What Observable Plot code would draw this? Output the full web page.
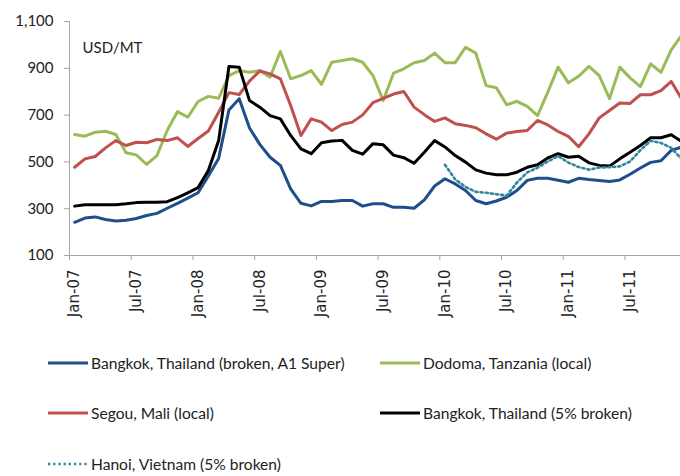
<!DOCTYPE html>
<html>
<head>
<meta charset="utf-8">
<script src="https://cdn.jsdelivr.net/npm/d3@7"></script>
<script src="https://cdn.jsdelivr.net/npm/@observablehq/plot@0.6"></script>
<style>
  html, body { margin: 0; padding: 0; background: #fff; }
  #wrap { position: relative; width: 680px; height: 476px; overflow: hidden; font-family: Lato, "Open Sans", sans-serif; }
  #chart { position: absolute; left: 0; top: 0; }
  .leg { position: absolute; display: flex; align-items: center; font-size: 15.6px; color: #222; white-space: nowrap; }
  .leg svg { margin-right: 3px; }
</style>
</head>
<body>
<div id="wrap">
  <div id="chart"></div>
  <div id="legend"></div>
</div>
<script>
// Month index 0 = Jan-07 ... 59 = Dec-11
const tickLabels = ["Jan-07", "Jul-07", "Jan-08", "Jul-08", "Jan-09", "Jul-09", "Jan-10", "Jul-10", "Jan-11", "Jul-11"];
const tickIndex = [0, 6, 12, 18, 24, 30, 36, 42, 48, 54];
const yTicks = [100, 300, 500, 700, 900, 1100];

const seriesNames = [
  "Bangkok, Thailand (broken, A1 Super)",
  "Dodoma, Tanzania (local)",
  "Segou, Mali (local)",
  "Bangkok, Thailand (5% broken)",
  "Hanoi, Vietnam (5% broken)"
];
const seriesColors = ["#1f4e8c", "#9bbb59", "#c0504d", "#000000", "#31859c"];

const bangkokA1 = [242, 260, 265, 254, 247, 251, 258, 271, 280, 302, 323, 345,
  368, 440, 515, 722, 770, 645, 575, 520, 485, 385, 323, 312,
  331, 331, 335, 335, 311, 321, 321, 306, 306, 302, 338, 397,
  428, 406, 378, 335, 321, 333, 349, 378, 421, 430, 430, 422,
  413, 430, 425, 421, 416, 423, 447, 474, 498, 505, 549, 563];

const dodoma = [617, 610, 627, 631, 617, 539, 530, 489, 527, 634, 715, 691,
  758, 780, 772, 869, 890, 883, 890, 862, 972, 855, 869, 890,
  831, 926, 933, 941, 926, 869, 762, 879, 898, 924, 933, 965,
  924, 924, 990, 965, 826, 817, 744, 759, 737, 698, 798, 905,
  838, 866, 908, 869, 770, 905, 859, 822, 919, 883, 979, 1040];

const segou = [477, 513, 523, 560, 591, 570, 584, 582, 596, 591, 603, 566,
  600, 632, 712, 796, 788, 845, 889, 876, 855, 741, 613, 684,
  670, 634, 660, 670, 701, 753, 771, 790, 801, 734, 702, 673,
  688, 663, 656, 646, 620, 597, 623, 630, 634, 677, 658, 630,
  609, 565, 620, 688, 720, 752, 750, 787, 787, 805, 844, 770];

const bangkok5 = [311, 317, 317, 317, 317, 321, 326, 328, 328, 330, 347, 368,
  390, 463, 591, 908, 905, 762, 734, 698, 684, 613, 556, 535,
  582, 589, 592, 549, 533, 578, 573, 529, 518, 494, 541, 591,
  564, 527, 499, 466, 452, 445, 445, 456, 477, 488, 517, 535,
  520, 524, 496, 485, 482, 513, 541, 570, 603, 603, 616, 587];

// Hanoi series starts at Jan-10 (month index 36)
const hanoiStart = 36;
const hanoi = [488, 425, 393, 372, 368, 362, 356, 412, 455, 475, 502, 525,
  497, 478, 467, 476, 477, 481, 502, 550, 590, 581, 560, 512];

const allSeries = [bangkokA1, dodoma, segou, bangkok5];
const rows = [];
allSeries.forEach((arr, s) => arr.forEach((v, i) => rows.push({i, v, s: seriesNames[s]})));
const hanoiRows = hanoi.map((v, k) => ({i: hanoiStart + k, v, s: seriesNames[4]}));

const boundaries = tickIndex.map(i => i - 0.5);
const labelOf = new Map(tickIndex.map((i, k) => [i, tickLabels[k]]));

const chart = Plot.plot({
  width: 680,
  height: 330,
  marginTop: 21,
  marginLeft: 69,
  marginRight: 0,
  marginBottom: 75,
  x: {type: "linear", domain: [-0.5, 58.9], label: null},
  y: {domain: [100, 1100], label: null},
  style: {fontFamily: "Lato, 'Open Sans', sans-serif", fontSize: "15px", color: "#222", background: "#fff"},
  marks: [
    Plot.ruleX([-0.5], {y1: 100, y2: 1100, stroke: "#a6a6a6", strokeWidth: 1}),
    Plot.ruleY([100], {stroke: "#a6a6a6", strokeWidth: 1}),
    Plot.axisY({ticks: yTicks, tickSize: 5, tickPadding: 11, tickFormat: d3.format(","), stroke: "#a6a6a6", fill: "#222", fontSize: 15, label: null}),
    Plot.axisX({ticks: boundaries, tickSize: 5, tickFormat: () => "", stroke: "#a6a6a6", label: null}),
    Plot.axisX({ticks: tickIndex, tickSize: 0, tickPadding: 14, tickRotate: -90, tickFormat: i => labelOf.get(i), fill: "#222", fontSize: 15, fontFamily: "DejaVu Sans, sans-serif", label: null}),
    Plot.line(rows, {x: "i", y: "v", z: "s", stroke: "s", strokeWidth: 3, strokeLinejoin: "round", clip: true}),
    Plot.line(hanoiRows, {x: "i", y: "v", stroke: "s", strokeWidth: 2.6, strokeDasharray: "2.2,3", clip: true}),
    Plot.text(["USD/MT"], {frameAnchor: "top-left", dx: 13, dy: 21, fontSize: 15, fill: "#222"})
  ],
  color: {domain: seriesNames, range: seriesColors}
});
document.getElementById("chart").append(chart);

// Legend (HTML, below the SVG)
const legendPos = [
  {x: 48, y: 364}, {x: 380, y: 364},
  {x: 48, y: 414}, {x: 380, y: 414},
  {x: 48, y: 465}
];
const legend = document.getElementById("legend");
seriesNames.forEach((name, k) => {
  const div = document.createElement("div");
  div.className = "leg";
  div.style.left = legendPos[k].x + "px";
  div.style.top = (legendPos[k].y - 10) + "px";
  const dotted = k === 4;
  div.innerHTML = `<svg width="40" height="8"><line x1="0" x2="40" y1="4" y2="4" stroke="${seriesColors[k]}" stroke-width="${dotted ? 2.6 : 3}" ${dotted ? 'stroke-dasharray="2.2,3"' : ''}/></svg><span>${name}</span>`;
  legend.append(div);
});
</script>
</body>
</html>
